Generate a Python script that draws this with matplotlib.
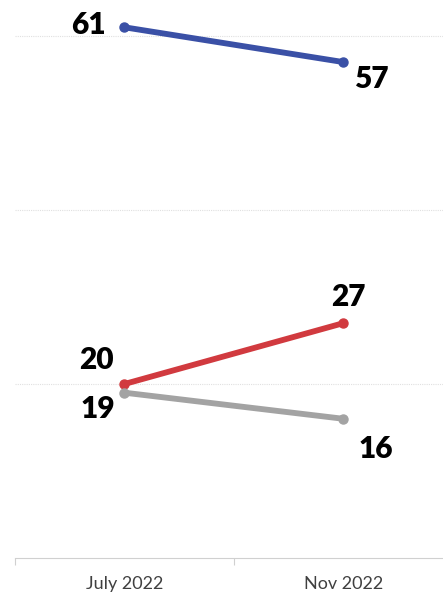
import matplotlib.pyplot as plt

periods = ['July 2022', 'Nov 2022']
blue_vals = [61, 57]
red_vals = [20, 27]
gray_vals = [19, 16]

# label offsets in pixels (dx, dy) for each point
blue_off = [(-36, 2), (28, -17)]
red_off = [(-28, 24), (5, 26)]
gray_off = [(-27, -16), (32, -30)]

W, H = 443, 596
fig = plt.figure(figsize=(W / 100, H / 100), dpi=100)
# axes spans category boundaries 15px .. 453px (cropped on the right)
ax = fig.add_axes([15 / W, 1 - 558 / H, 438 / W, 558 / H])
ax.set_xlim(-0.5, 1.5)
ax.set_ylim(0, 558 / 8.7)

x = list(range(len(periods)))
series = [
    (blue_vals, '#3a50a6', blue_off),
    (red_vals, '#d13a3f', red_off),
    (gray_vals, '#a3a3a3', gray_off),
]
for vals, col, offs in series:
    ax.plot(x, vals, color=col, lw=4.2, solid_capstyle='round',
            marker='o', ms=6.5, zorder=3)
    for xi, v, (dx, dy) in zip(x, vals, offs):
        ax.annotate(str(v), (xi, v), xytext=(dx, dy), textcoords='offset pixels',
                    ha='center', va='center', fontsize=21.5, fontweight='heavy',
                    family=['Lato', 'DejaVu Sans'], color='black')

ax.set_yticks([20, 40, 60])
ax.yaxis.grid(True, color='#e0e0e0', lw=0.8, ls=(0, (1, 1)))
ax.tick_params(axis='y', left=False, labelleft=False)
ax.set_xticks(x)
ax.set_xticklabels(periods, family=['Lato', 'DejaVu Sans'], fontsize=13, color='#404040')
ax.set_xticks([-0.5, 0.5, 1.5], minor=True)
ax.tick_params(axis='x', which='major', length=0, pad=13)
ax.tick_params(axis='x', which='minor', length=5, color='#d0d0d0', width=0.8)
for s in ['top', 'right', 'left']:
    ax.spines[s].set_visible(False)
ax.spines['bottom'].set_color('#d0d0d0')
ax.spines['bottom'].set_linewidth(0.8)
ax.set_axisbelow(True)

fig.savefig('out.png', dpi=100)
